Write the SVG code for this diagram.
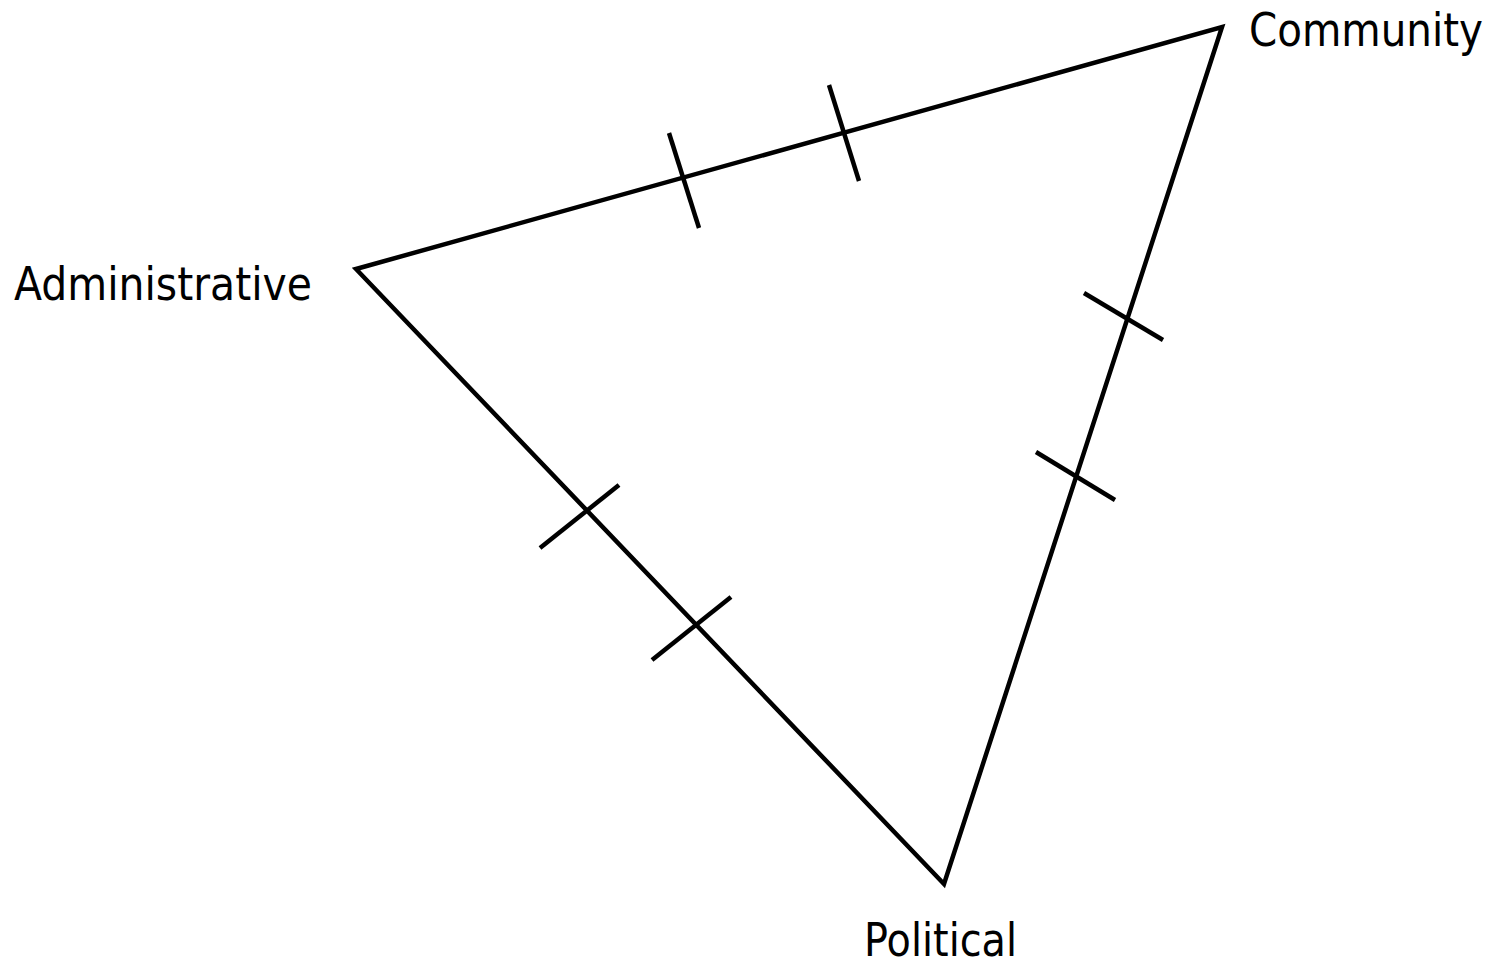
<svg xmlns="http://www.w3.org/2000/svg" width="1491" height="963" viewBox="0 0 1491 963">
<style>
.edge{fill:none;stroke:#000;stroke-width:4.5;stroke-linejoin:miter}
.tick{stroke:#000;stroke-width:4.5}
.lbl{font-family:"DejaVu Sans",Verdana,sans-serif;font-size:47px;fill:#000}
</style>
<rect width="1491" height="963" fill="#fff"/>
<g id="connectors">
<path class="edge" d="M356,269 L1222,27 L944,884 Z"/>
<line class="tick" x1="669" y1="133" x2="699" y2="228"/>
<line class="tick" x1="829" y1="85" x2="859" y2="181"/>
<line class="tick" x1="540" y1="548" x2="619" y2="485"/>
<line class="tick" x1="652" y1="660" x2="731" y2="597"/>
<line class="tick" x1="1084" y1="293" x2="1163" y2="340"/>
<line class="tick" x1="1036" y1="452" x2="1115" y2="500"/>
</g>
<g id="community"><text class="lbl" x="1249" y="46" textLength="234" lengthAdjust="spacingAndGlyphs">Community</text></g>
<g id="administrative"><text class="lbl" x="14" y="300" textLength="298" lengthAdjust="spacingAndGlyphs">Administrative</text></g>
<g id="political"><text class="lbl" x="864" y="956" textLength="153" lengthAdjust="spacingAndGlyphs">Political</text></g>
</svg>
